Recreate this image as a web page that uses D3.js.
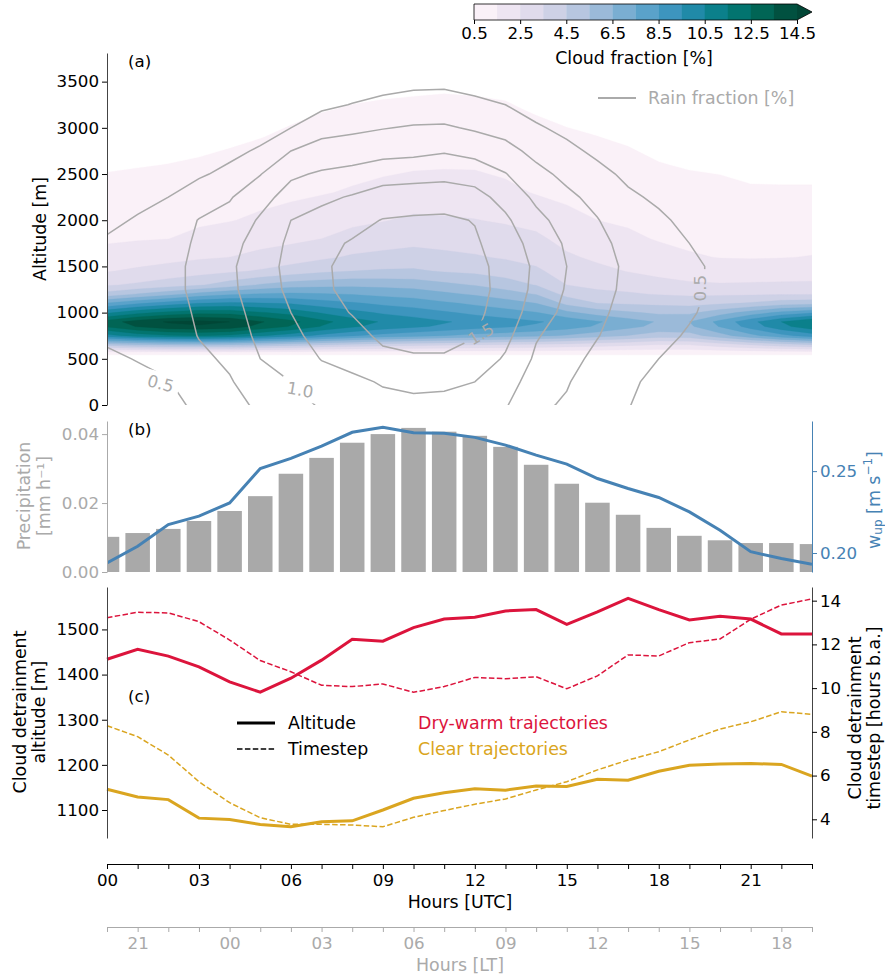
<!DOCTYPE html>
<html>
<head>
<meta charset="utf-8">
<script src="https://cdnjs.cloudflare.com/ajax/libs/d3/7.8.5/d3.min.js"></script>
<style>
  body { margin: 0; background: #fff; }
  text { font-family: "DejaVu Sans", sans-serif; }
</style>
</head>
<body>
<svg id="chart" width="885" height="977"></svg>
<script>
// ---- data ----
const hours = [0,1,2,3,4,5,6,7,8,9,10,11,12,13,14,15,16,17,18,19,20,21,22,23];

// cloud fraction [%] profiles, one row per hour, values at cloudAlt
const cloudAlt = [500, 560, 650, 750, 850, 900, 1000, 1100, 1200, 1300, 1450, 1600, 1800, 2000, 2300, 2600, 2900, 3200, 3500];
const cloudFraction = [
  [0, 0.7, 4.94, 10.14, 12.61, 13.0, 10.30, 7.60, 4.90, 3.40, 2.44, 1.85, 1.36, 1.11, 0.74, 0.41, 0.15, 0.04, 0],
  [0, 0.7, 5.32, 10.92, 13.58, 14.0, 11.19, 8.38, 5.57, 3.66, 2.67, 2.03, 1.43, 1.18, 0.81, 0.46, 0.19, 0.06, 0],
  [0, 0.7, 5.55, 11.39, 14.16, 14.6, 11.79, 8.99, 6.18, 4.00, 2.89, 2.20, 1.49, 1.24, 0.88, 0.51, 0.25, 0.08, 0],
  [0, 0.7, 5.62, 11.54, 14.36, 14.8, 12.16, 9.52, 6.88, 4.39, 3.11, 2.38, 1.75, 1.35, 0.96, 0.58, 0.29, 0.10, 0],
  [0, 0.7, 5.51, 11.31, 14.07, 14.5, 12.12, 9.74, 7.36, 4.98, 3.33, 2.50, 1.96, 1.46, 1.08, 0.69, 0.37, 0.13, 0.02],
  [0, 0.7, 5.17, 10.61, 13.19, 13.6, 11.60, 9.60, 7.60, 5.60, 3.60, 2.76, 2.13, 1.65, 1.21, 0.84, 0.48, 0.22, 0.07],
  [0, 0.7, 4.86, 9.98, 12.42, 12.8, 11.11, 9.41, 7.72, 6.02, 3.95, 3.00, 2.28, 1.83, 1.33, 0.98, 0.63, 0.33, 0.12],
  [0, 0.7, 4.48, 9.20, 11.45, 11.8, 10.40, 8.99, 7.59, 6.18, 4.29, 3.33, 2.50, 2.06, 1.44, 1.11, 0.78, 0.46, 0.19],
  [0, 0.7, 4.18, 8.58, 10.67, 11.0, 9.82, 8.64, 7.45, 6.27, 4.50, 3.62, 2.86, 2.27, 1.59, 1.21, 0.88, 0.55, 0.28],
  [0, 0.7, 3.95, 8.11, 10.09, 10.4, 9.35, 8.29, 7.24, 6.19, 4.61, 3.76, 3.05, 2.45, 1.77, 1.29, 0.95, 0.60, 0.32],
  [0, 0.7, 3.80, 7.80, 9.70, 10.0, 9.02, 8.05, 7.07, 6.10, 4.64, 3.87, 3.19, 2.66, 1.94, 1.37, 1.01, 0.64, 0.34],
  [0, 0.7, 3.65, 7.49, 9.31, 9.6, 8.64, 7.68, 6.71, 5.75, 4.41, 3.73, 3.12, 2.60, 1.97, 1.41, 1.05, 0.68, 0.36],
  [0, 0.7, 3.50, 7.18, 8.92, 9.2, 8.26, 7.32, 6.38, 5.44, 4.27, 3.59, 3.04, 2.53, 1.93, 1.40, 1.02, 0.65, 0.34],
  [0, 0.7, 3.38, 6.94, 8.63, 8.9, 7.92, 6.94, 5.97, 4.99, 4.02, 3.40, 2.88, 2.39, 1.72, 1.27, 0.93, 0.59, 0.30],
  [0, 0.7, 3.27, 6.71, 8.34, 8.6, 7.55, 6.50, 5.45, 4.45, 3.66, 3.20, 2.70, 2.18, 1.44, 1.10, 0.76, 0.43, 0.17],
  [0, 0.7, 3.12, 6.40, 7.95, 8.2, 6.72, 5.24, 4.17, 3.50, 3.07, 2.64, 2.18, 1.76, 1.29, 0.95, 0.60, 0.32, 0.11],
  [0, 0.7, 2.89, 5.93, 7.37, 7.6, 6.05, 4.50, 3.73, 3.26, 2.74, 2.33, 1.92, 1.50, 1.17, 0.84, 0.51, 0.25, 0.08],
  [0, 0.7, 2.66, 5.46, 6.79, 7.0, 5.65, 4.38, 3.62, 3.10, 2.46, 2.12, 1.68, 1.37, 1.03, 0.70, 0.40, 0.14, 0.03],
  [0, 0.7, 2.43, 4.99, 6.21, 6.4, 5.31, 4.28, 3.44, 2.81, 2.24, 1.86, 1.43, 1.21, 0.87, 0.53, 0.26, 0.09, 0],
  [0, 0.7, 2.47, 5.07, 6.31, 6.5, 5.30, 4.19, 3.33, 2.64, 2.08, 1.59, 1.31, 1.09, 0.75, 0.44, 0.18, 0.05, 0],
  [0, 0.7, 2.96, 6.08, 7.57, 7.8, 6.06, 4.39, 3.35, 2.58, 1.96, 1.47, 1.25, 1.03, 0.70, 0.39, 0.14, 0.03, 0],
  [0, 0.7, 3.50, 7.18, 8.92, 9.2, 6.91, 4.61, 3.38, 2.62, 1.94, 1.44, 1.20, 0.95, 0.59, 0.30, 0.10, 0, 0],
  [0, 0.7, 3.99, 8.19, 10.19, 10.5, 7.77, 5.05, 3.42, 2.65, 2.00, 1.47, 1.22, 0.96, 0.58, 0.29, 0.10, 0, 0],
  [0, 0.7, 4.37, 8.97, 11.16, 11.5, 8.33, 5.17, 3.44, 2.66, 2.05, 1.53, 1.24, 0.98, 0.58, 0.29, 0.10, 0, 0]
];
const cloudLevels = [0.5, 1.5, 2.5, 3.5, 4.5, 5.5, 6.5, 7.5, 8.5, 9.5, 10.5, 11.5, 12.5, 13.5, 14.5];
const colorbarTicks = [0.5, 2.5, 4.5, 6.5, 8.5, 10.5, 12.5, 14.5];

// rain fraction [%] profiles, one row per hour, values at rainAlt
const rainAlt = [0, 250, 500, 750, 1000, 1250, 1500, 1750, 2000, 2250, 2500, 2750, 3000, 3250, 3500, 3750];
const rainFraction = [
  [0.30,0.38,0.46,0.54,0.62,0.66,0.62,0.53,0.45,0.38,0.31,0.25,0.20,0.15,0.10,0.07],
  [0.36,0.44,0.51,0.58,0.65,0.68,0.68,0.64,0.52,0.44,0.36,0.29,0.22,0.16,0.11,0.07],
  [0.43,0.49,0.55,0.61,0.66,0.70,0.70,0.67,0.59,0.50,0.42,0.34,0.26,0.19,0.13,0.08],
  [0.55,0.62,0.70,0.76,0.78,0.79,0.79,0.78,0.76,0.62,0.47,0.38,0.29,0.21,0.15,0.09],
  [0.66,0.73,0.79,0.85,0.90,0.95,0.96,0.92,0.83,0.73,0.56,0.44,0.34,0.25,0.17,0.10],
  [0.80,0.88,1.00,1.06,1.10,1.13,1.14,1.10,1.03,0.91,0.74,0.53,0.40,0.29,0.20,0.12],
  [0.93,1.00,1.10,1.18,1.25,1.30,1.32,1.30,1.25,1.10,0.96,0.75,0.50,0.36,0.25,0.15],
  [1.02,1.14,1.26,1.35,1.42,1.46,1.47,1.44,1.33,1.20,1.03,0.85,0.66,0.44,0.30,0.18],
  [1.10,1.20,1.33,1.43,1.51,1.56,1.56,1.52,1.42,1.27,1.07,0.88,0.70,0.51,0.35,0.22],
  [1.18,1.27,1.45,1.54,1.59,1.61,1.60,1.56,1.51,1.36,1.14,0.92,0.74,0.57,0.40,0.26],
  [1.20,1.30,1.48,1.56,1.61,1.63,1.62,1.58,1.53,1.38,1.16,0.94,0.77,0.60,0.44,0.30],
  [1.19,1.29,1.48,1.56,1.60,1.62,1.61,1.58,1.54,1.39,1.18,0.98,0.78,0.60,0.45,0.30],
  [1.10,1.25,1.40,1.51,1.55,1.56,1.55,1.53,1.49,1.33,1.15,0.92,0.72,0.56,0.40,0.27],
  [1.02,1.12,1.22,1.32,1.40,1.44,1.44,1.38,1.29,1.17,1.01,0.83,0.66,0.50,0.36,0.24],
  [0.80,0.87,0.96,1.02,1.12,1.18,1.20,1.15,1.07,0.95,0.82,0.68,0.53,0.40,0.28,0.18],
  [0.72,0.77,0.83,0.89,0.94,0.98,1.00,0.97,0.90,0.80,0.69,0.56,0.44,0.33,0.23,0.15],
  [0.56,0.61,0.69,0.76,0.80,0.83,0.84,0.81,0.76,0.68,0.57,0.45,0.35,0.26,0.18,0.11],
  [0.51,0.54,0.58,0.63,0.67,0.70,0.71,0.68,0.61,0.54,0.45,0.36,0.28,0.20,0.14,0.09],
  [0.40,0.44,0.50,0.55,0.58,0.60,0.60,0.58,0.54,0.46,0.38,0.30,0.23,0.17,0.12,0.08],
  [0.33,0.37,0.42,0.48,0.52,0.54,0.54,0.50,0.44,0.38,0.31,0.25,0.19,0.14,0.10,0.06],
  [0.28,0.31,0.35,0.40,0.44,0.46,0.46,0.43,0.38,0.32,0.27,0.22,0.17,0.12,0.08,0.05],
  [0.25,0.28,0.32,0.36,0.40,0.42,0.42,0.39,0.35,0.30,0.25,0.20,0.15,0.11,0.07,0.05],
  [0.23,0.26,0.29,0.33,0.37,0.39,0.39,0.36,0.32,0.27,0.23,0.18,0.14,0.10,0.07,0.04],
  [0.22,0.24,0.27,0.31,0.34,0.36,0.36,0.33,0.29,0.25,0.21,0.17,0.13,0.09,0.06,0.04]
];
const rainLevels = [0.5, 0.75, 1.0, 1.25, 1.5];
const rainLabels = [
  { text: "0.5", hour: 1.75, alt: 235, rot: 15 },
  { text: "1.0", hour: 6.3, alt: 165, rot: 10 },
  { text: "1.5", hour: 12.2, alt: 770, rot: -30 },
  { text: "0.5", hour: 19.35, alt: 1265, rot: -90 }
];

// panel (b)
const precipitation = [0.0102,0.0113,0.0125,0.0148,0.0177,0.0220,0.0285,0.0331,0.0375,0.0400,0.0418,0.0407,
                       0.0395,0.0363,0.0311,0.0256,0.0201,0.0166,0.0128,0.0105,0.0092,0.0084,0.0084,0.0081];
const wUp = [0.1939,0.2041,0.2174,0.2225,0.2306,0.2516,0.2578,0.2653,0.2737,0.2767,0.2734,0.2731,
             0.2706,0.2659,0.2598,0.2543,0.2455,0.2394,0.2339,0.2251,0.2139,0.2008,0.1966,0.1931];

// panel (c)
const dryWarmAltitude = [1434,1456,1441,1417,1384,1361,1392,1432,1478,1474,1504,1523,
                         1527,1541,1544,1511,1539,1569,1544,1521,1529,1523,1490,1490];
const dryWarmTimestep = [13.22,13.47,13.44,13.04,12.20,11.26,10.75,10.13,10.07,10.19,9.81,10.07,
                         10.49,10.43,10.52,9.97,10.56,11.52,11.47,12.08,12.25,13.15,13.80,14.08];
const clearAltitude = [1146,1129,1123,1082,1079,1068,1063,1074,1076,1100,1126,1138,
                       1147,1144,1153,1152,1168,1166,1186,1199,1202,1203,1201,1175];
const clearTimestep = [8.28,7.78,6.94,5.72,4.76,4.07,3.77,3.77,3.74,3.66,4.09,4.40,
                       4.69,4.93,5.34,5.72,6.26,6.71,7.09,7.63,8.13,8.46,8.92,8.80];

const utcOffsetLT = -4;

// ---- layout ----
const svg = d3.select('#chart');
const FS = 16.7;   // tick labels
const LS = 17.4;   // axis titles, legends
const grey = '#aaaaaa';
const blue = '#4682b4';
const red = '#dc143c';
const gold = '#daa520';

const x = d3.scaleLinear().domain([0, 23]).range([107, 812]);
const ya = d3.scaleLinear().domain([0, 3810]).range([405, 53]);
const yb = d3.scaleLinear().domain([0, 0.0438]).range([572, 421]);
const ybw = d3.scaleLinear().domain([0.1884, 0.2806]).range([572, 421]);
const yc = d3.scaleLinear().domain([1038, 1594]).range([838, 587]);
const yct = d3.scaleLinear().domain([3.145, 14.625]).range([838, 587]);

function styleAxis(g, color) {
  g.select('.domain').attr('stroke', color);
  g.selectAll('.tick line').attr('stroke', color);
  g.selectAll('.tick text').attr('fill', color).attr('font-size', FS)
    .attr('font-family', '"DejaVu Sans", sans-serif');
}
function label(txt, px, py, opts) {
  const t = svg.append('text').attr('x', px).attr('y', py)
    .attr('font-size', (opts && opts.size) || LS).attr('fill', (opts && opts.color) || '#000')
    .attr('text-anchor', (opts && opts.anchor) || 'middle')
    .attr('dominant-baseline', 'central')
    .text(txt);
  if (opts && opts.rotate) t.attr('transform', `rotate(${opts.rotate},${px},${py})`);
  return t;
}

const defs = svg.append('defs');
defs.append('clipPath').attr('id', 'clipA').append('rect')
  .attr('x', x(0)).attr('y', ya(3810)).attr('width', x(23) - x(0)).attr('height', ya(0) - ya(3810));
defs.append('clipPath').attr('id', 'clipB').append('rect')
  .attr('x', x(0)).attr('y', 400).attr('width', x(23) - x(0)).attr('height', 200);

// ---- panel (a): filled cloud fraction ----
const nH = hours.length;
const cloudFlat = [];
cloudAlt.forEach((_, j) => hours.forEach((_, i) => cloudFlat.push(cloudFraction[i][j])));
const cloudRow = d3.scaleLinear().domain(d3.range(cloudAlt.length)).range(cloudAlt);
const cloudPath = d3.geoPath(d3.geoTransform({
  point: function (gx, gy) { this.stream.point(x(gx - 0.5), ya(cloudRow(gy - 0.5))); }
}));
const cloudBands = d3.contours().size([nH, cloudAlt.length]).thresholds(cloudLevels)(cloudFlat);
const levelColor = (i) => i < cloudLevels.length - 1
  ? d3.interpolatePuBuGn((i + 0.5) / (cloudLevels.length - 1))
  : d3.interpolatePuBuGn(1);

const gA = svg.append('g').attr('clip-path', 'url(#clipA)');
gA.selectAll('path.band').data(cloudBands).enter().append('path')
  .attr('class', 'band')
  .attr('d', cloudPath)
  .attr('fill', (d, i) => levelColor(i))
  .attr('stroke', (d, i) => levelColor(i))
  .attr('stroke-width', 0.3);

// rain fraction contour lines
const rainFlat = [];
rainAlt.forEach((_, j) => hours.forEach((_, i) => rainFlat.push(rainFraction[i][j])));
const rainRow = d3.scaleLinear().domain(d3.range(rainAlt.length)).range(rainAlt);
const rainPath = d3.geoPath(d3.geoTransform({
  point: function (gx, gy) { this.stream.point(x(gx - 0.5), ya(rainRow(gy - 0.5))); }
}));
const rainLines = d3.contours().size([nH, rainAlt.length]).thresholds(rainLevels)(rainFlat);

const mask = defs.append('mask').attr('id', 'rainMask').attr('maskUnits', 'userSpaceOnUse')
  .attr('x', 0).attr('y', 0).attr('width', 885).attr('height', 977);
mask.append('rect').attr('width', 885).attr('height', 977).attr('fill', 'white');
rainLabels.forEach(l => {
  mask.append('rect').attr('x', -19).attr('y', -11).attr('width', 38).attr('height', 22)
    .attr('fill', 'black')
    .attr('transform', `translate(${x(l.hour)},${ya(l.alt)}) rotate(${l.rot})`);
});
gA.append('g').attr('mask', 'url(#rainMask)')
  .selectAll('path').data(rainLines).enter().append('path')
  .attr('d', rainPath)
  .attr('fill', 'none')
  .attr('stroke', grey)
  .attr('stroke-width', 1.5);

rainLabels.forEach(l => {
  svg.append('text')
    .attr('transform', `translate(${x(l.hour)},${ya(l.alt)}) rotate(${l.rot})`)
    .attr('text-anchor', 'middle').attr('dominant-baseline', 'central')
    .attr('font-size', FS).attr('fill', grey)
    .text(l.text);
});

const axA = svg.append('g').attr('transform', `translate(${x(0)},0)`)
  .call(d3.axisLeft(ya).tickValues([0, 500, 1000, 1500, 2000, 2500, 3000, 3500])
    .tickFormat(d3.format('d')).tickSize(5).tickSizeOuter(0).tickPadding(3));
styleAxis(axA, '#000');
axA.select('.domain').attr('stroke', '#444');
label('Altitude [m]', 40, 229, { rotate: -90 });
label('(a)', 128, 61, { anchor: 'start', size: FS });

// rain legend
svg.append('line').attr('x1', 598).attr('x2', 636).attr('y1', 98).attr('y2', 98)
  .attr('stroke', grey).attr('stroke-width', 2);
label('Rain fraction [%]', 648, 98, { color: grey, anchor: 'start' });

// colorbar
const cbx = d3.scaleLinear().domain([cloudLevels[0], cloudLevels[cloudLevels.length - 1]]).range([474, 797]);
const cbTop = 4, cbBot = 20;
svg.append('g').selectAll('rect').data(cloudLevels.slice(0, -1)).enter().append('rect')
  .attr('x', d => cbx(d)).attr('y', cbTop)
  .attr('width', (d, i) => cbx(cloudLevels[i + 1]) - cbx(d) + 0.3)
  .attr('height', cbBot - cbTop)
  .attr('fill', (d, i) => levelColor(i));
const cbEnd = cbx(cloudLevels[cloudLevels.length - 1]);
svg.append('path')
  .attr('d', `M${cbEnd},${cbTop}L${cbEnd + 15},${(cbTop + cbBot) / 2}L${cbEnd},${cbBot}Z`)
  .attr('fill', levelColor(cloudLevels.length - 1));
svg.append('path')
  .attr('d', `M${cbx(0.5)},${cbTop}L${cbEnd},${cbTop}L${cbEnd + 15},${(cbTop + cbBot) / 2}L${cbEnd},${cbBot}L${cbx(0.5)},${cbBot}Z`)
  .attr('fill', 'none').attr('stroke', '#000').attr('stroke-width', 0.8);
const cbAxis = svg.append('g').attr('transform', `translate(0,${cbBot})`)
  .call(d3.axisBottom(cbx).tickValues(colorbarTicks).tickFormat(d3.format('.1f'))
    .tickSize(4).tickSizeOuter(0).tickPadding(3));
cbAxis.select('.domain').remove();
styleAxis(cbAxis, '#000');
label('Cloud fraction [%]', 634, 58);

// ---- panel (b) ----
const gB = svg.append('g').attr('clip-path', 'url(#clipB)');
const bw = (x(1) - x(0)) * 0.8;
gB.selectAll('rect').data(precipitation).enter().append('rect')
  .attr('x', (d, i) => x(hours[i]) - bw / 2)
  .attr('y', d => yb(d))
  .attr('width', bw)
  .attr('height', d => yb(0) - yb(d))
  .attr('fill', '#a9a9a9');
gB.append('path').datum(wUp)
  .attr('d', d3.line().x((d, i) => x(hours[i])).y(d => ybw(d)))
  .attr('fill', 'none').attr('stroke', blue).attr('stroke-width', 3);

const axBL = svg.append('g').attr('transform', `translate(${x(0)},0)`)
  .call(d3.axisLeft(yb).tickValues([0, 0.02, 0.04]).tickFormat(d3.format('.2f'))
    .tickSize(5).tickSizeOuter(0).tickPadding(3));
styleAxis(axBL, grey);
const axBR = svg.append('g').attr('transform', `translate(${x(23)},0)`)
  .call(d3.axisRight(ybw).tickValues([0.20, 0.25]).tickFormat(d3.format('.2f'))
    .tickSize(5).tickSizeOuter(0).tickPadding(3));
styleAxis(axBR, blue);
label('Precipitation', 24, 496, { color: grey, rotate: -90 });
label('[mm h\u207B\u00B9]', 44, 496, { color: grey, rotate: -90 });
const wl = svg.append('text').attr('x', 874).attr('y', 500)
  .attr('transform', 'rotate(-90,874,500)')
  .attr('text-anchor', 'middle').attr('dominant-baseline', 'central')
  .attr('font-size', LS).attr('fill', blue);
wl.append('tspan').text('w');
wl.append('tspan').attr('font-size', 12).attr('dy', 4).text('up');
wl.append('tspan').attr('dy', -4).text(' [m s');
wl.append('tspan').attr('font-size', 12).attr('dy', -6).text('\u22121');
wl.append('tspan').attr('dy', 6).text(']');
label('(b)', 128, 429, { anchor: 'start', size: FS });

// ---- panel (c) ----
const gC = svg.append('g');
const lineAlt = d3.line().x((d, i) => x(hours[i])).y(d => yc(d));
const lineTs = d3.line().x((d, i) => x(hours[i])).y(d => yct(d));
gC.append('path').datum(dryWarmTimestep).attr('d', lineTs)
  .attr('fill', 'none').attr('stroke', red).attr('stroke-width', 1.5).attr('stroke-dasharray', '5.5,2.4');
gC.append('path').datum(clearTimestep).attr('d', lineTs)
  .attr('fill', 'none').attr('stroke', gold).attr('stroke-width', 1.5).attr('stroke-dasharray', '5.5,2.4');
gC.append('path').datum(dryWarmAltitude).attr('d', lineAlt)
  .attr('fill', 'none').attr('stroke', red).attr('stroke-width', 3);
gC.append('path').datum(clearAltitude).attr('d', lineAlt)
  .attr('fill', 'none').attr('stroke', gold).attr('stroke-width', 3);

const axCL = svg.append('g').attr('transform', `translate(${x(0)},0)`)
  .call(d3.axisLeft(yc).tickValues([1100, 1200, 1300, 1400, 1500])
    .tickFormat(d3.format('d')).tickSize(5).tickSizeOuter(0).tickPadding(3));
styleAxis(axCL, '#000');
axCL.select('.domain').attr('stroke', '#444');
const axCR = svg.append('g').attr('transform', `translate(${x(23)},0)`)
  .call(d3.axisRight(yct).tickValues([4, 6, 8, 10, 12, 14])
    .tickSize(5).tickSizeOuter(0).tickPadding(3));
styleAxis(axCR, '#000');
axCR.select('.domain').attr('stroke', '#444');
label('Cloud detrainment', 20, 712, { rotate: -90 });
label('altitude [m]', 39, 712, { rotate: -90 });
label('Cloud detrainment', 855, 718, { rotate: -90 });
label('timestep [hours b.a.]', 874, 718, { rotate: -90 });
label('(c)', 128, 696, { anchor: 'start', size: FS });

// legend (c)
svg.append('line').attr('x1', 237).attr('x2', 275).attr('y1', 723).attr('y2', 723)
  .attr('stroke', '#000').attr('stroke-width', 3);
svg.append('line').attr('x1', 237).attr('x2', 275).attr('y1', 749).attr('y2', 749)
  .attr('stroke', '#000').attr('stroke-width', 1.5).attr('stroke-dasharray', '5.5,2.4');
label('Altitude', 288, 723, { anchor: 'start' });
label('Timestep', 288, 749, { anchor: 'start' });
label('Dry-warm trajectories', 418, 723, { anchor: 'start', color: red });
label('Clear trajectories', 418, 749, { anchor: 'start', color: gold });

// ---- bottom axes ----
const pad2 = d => String(d).padStart(2, '0');
const axUTC = svg.append('g').attr('transform', 'translate(0,864)')
  .call(d3.axisBottom(x).tickValues(hours).tickFormat(d => d % 3 === 0 ? pad2(d) : '')
    .tickSize(5).tickSizeOuter(0).tickPadding(5));
styleAxis(axUTC, '#000');
label('Hours [UTC]', 460, 902);

const axLT = svg.append('g').attr('transform', 'translate(0,927)')
  .call(d3.axisBottom(x).tickValues(hours)
    .tickFormat(d => {
      const lt = (d + utcOffsetLT + 24) % 24;
      return lt % 3 === 0 ? pad2(lt) : '';
    })
    .tickSize(5).tickSizeOuter(0).tickPadding(5));
styleAxis(axLT, grey);
label('Hours [LT]', 460, 965, { color: grey });
</script>
</body>
</html>
